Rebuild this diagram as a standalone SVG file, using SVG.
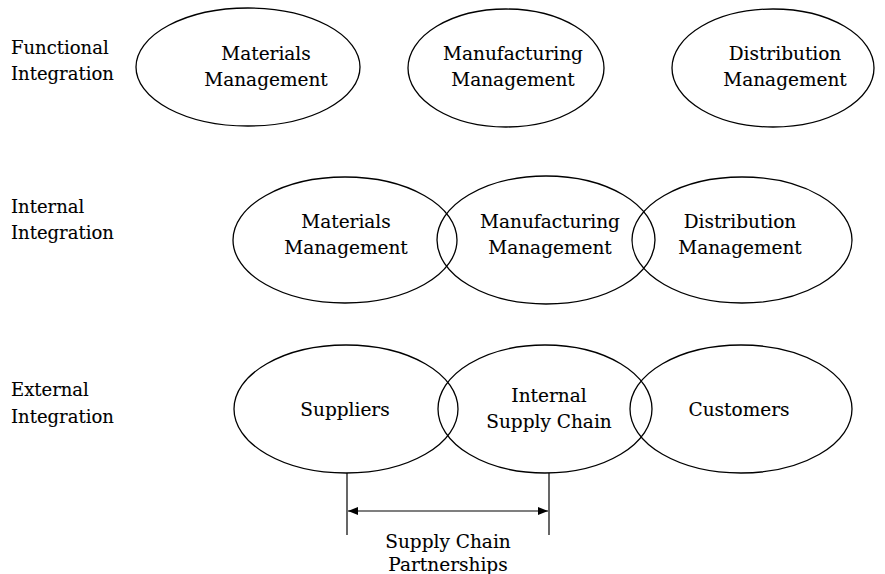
<svg xmlns="http://www.w3.org/2000/svg" width="885" height="574" viewBox="0 0 885 574">
  <style>
    .oval { fill: none; stroke: #000; stroke-width: 1.3; }
    .lbl { font-family: "DejaVu Serif", "Liberation Serif", serif; font-size: 18.5px; fill: #000; stroke: #000; stroke-width: 0.12; text-anchor: middle; }
    .side { font-family: "DejaVu Serif", "Liberation Serif", serif; font-size: 18px; fill: #000; stroke: #000; stroke-width: 0.12; }
    .link { stroke: #000; stroke-width: 1.2; fill: none; }
  </style>
  <defs>
    <marker id="tip" viewBox="0 0 10 10" refX="10" refY="5" markerWidth="11" markerHeight="10" markerUnits="userSpaceOnUse" orient="auto-start-reverse">
      <path d="M0,1 L10,5 L0,9 Z" fill="#000"/>
    </marker>
  </defs>

  <!-- row labels -->
  <g id="row-functional">
    <text class="side" x="11" y="54">Functional</text>
    <text class="side" x="11" y="80">Integration</text>
  </g>
  <g id="row-internal">
    <text class="side" x="11" y="213">Internal</text>
    <text class="side" x="11" y="239">Integration</text>
  </g>
  <g id="row-external">
    <text class="side" x="11" y="396">External</text>
    <text class="side" x="11" y="423">Integration</text>
  </g>

  <!-- functional integration: separate areas -->
  <g id="f-materials">
    <ellipse class="oval" cx="248" cy="67" rx="112" ry="59"/>
    <text class="lbl" x="266" y="60">Materials</text>
    <text class="lbl" x="266" y="86">Management</text>
  </g>
  <g id="f-manufacturing">
    <ellipse class="oval" cx="506" cy="68" rx="98" ry="59"/>
    <text class="lbl" x="513" y="60">Manufacturing</text>
    <text class="lbl" x="513" y="86">Management</text>
  </g>
  <g id="f-distribution">
    <ellipse class="oval" cx="773" cy="68" rx="101" ry="59"/>
    <text class="lbl" x="785" y="60">Distribution</text>
    <text class="lbl" x="785" y="86">Management</text>
  </g>

  <!-- internal integration: overlapping areas -->
  <g id="i-materials">
    <ellipse class="oval" cx="345" cy="240" rx="112" ry="63"/>
    <text class="lbl" x="346" y="228">Materials</text>
    <text class="lbl" x="346" y="254">Management</text>
  </g>
  <g id="i-manufacturing">
    <ellipse class="oval" cx="546" cy="240" rx="109" ry="64"/>
    <text class="lbl" x="550" y="228">Manufacturing</text>
    <text class="lbl" x="550" y="254">Management</text>
  </g>
  <g id="i-distribution">
    <ellipse class="oval" cx="742" cy="240" rx="110" ry="63"/>
    <text class="lbl" x="740" y="228">Distribution</text>
    <text class="lbl" x="740" y="254">Management</text>
  </g>

  <!-- external integration -->
  <g id="e-suppliers">
    <ellipse class="oval" cx="346" cy="409" rx="112" ry="64"/>
    <text class="lbl" x="345" y="416">Suppliers</text>
  </g>
  <g id="e-internal">
    <ellipse class="oval" cx="545" cy="409" rx="107" ry="64"/>
    <text class="lbl" x="549" y="402">Internal</text>
    <text class="lbl" x="549" y="428">Supply Chain</text>
  </g>
  <g id="e-customers">
    <ellipse class="oval" cx="741" cy="409" rx="111" ry="64"/>
    <text class="lbl" x="739" y="416">Customers</text>
  </g>

  <!-- partnership span -->
  <g id="connectors">
    <line class="link" x1="347" y1="473" x2="347" y2="535"/>
    <line class="link" x1="549" y1="473" x2="549" y2="535"/>
    <line class="link" x1="348" y1="511" x2="548" y2="511" marker-start="url(#tip)" marker-end="url(#tip)"/>
  </g>
  <g id="span-label">
    <text class="lbl" x="448" y="548">Supply Chain</text>
    <text class="lbl" x="448" y="571">Partnerships</text>
  </g>
</svg>
